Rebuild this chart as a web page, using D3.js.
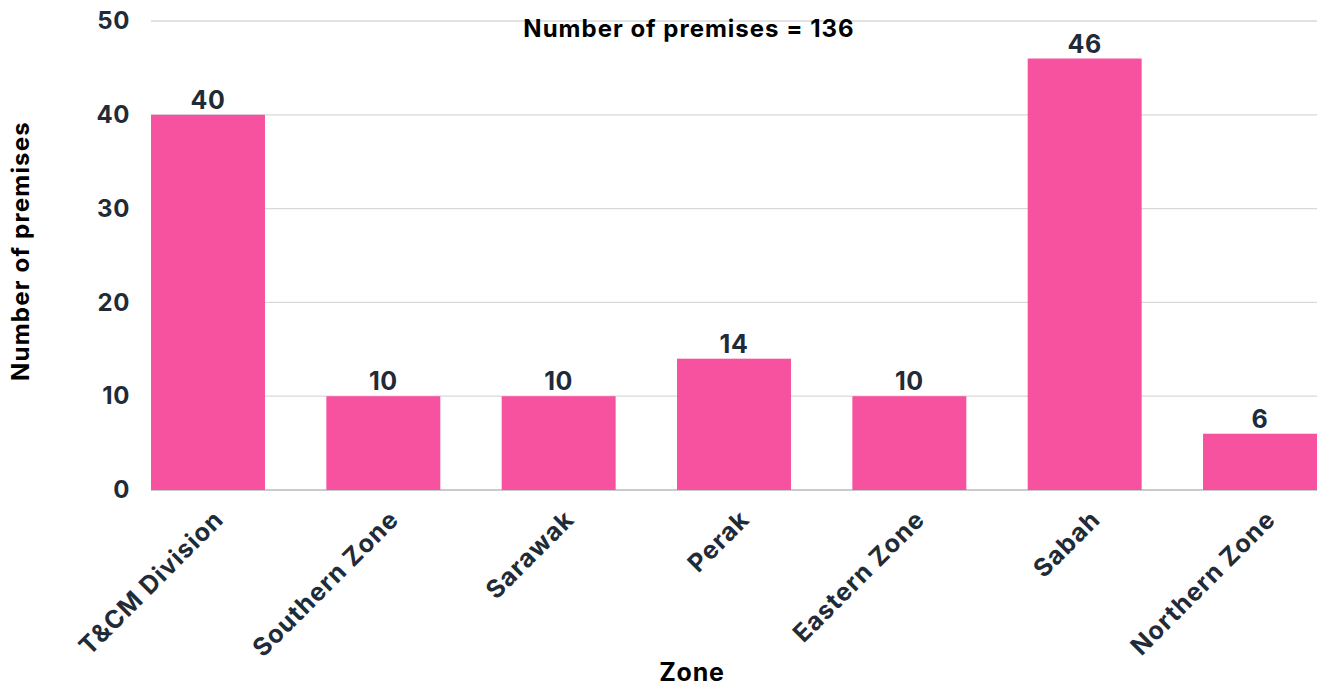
<!DOCTYPE html>
<html><head><meta charset="utf-8">
<script src="https://cdn.jsdelivr.net/npm/d3@7"></script>
<style>body{margin:0;background:#fff}svg{display:block}</style>
</head><body>
<svg id="c" width="1317" height="686"></svg>
<script>
const categories = ["T&CM Division","Southern Zone","Sarawak","Perak","Eastern Zone","Sabah","Northern Zone"];
const values = [40,10,10,14,10,46,6];
const yTicks = [0,10,20,30,40,50];
const title = "Number of premises = 136";
const xTitle = "Zone";
const yTitle = "Number of premises";

const svg = d3.select("#c");
const W = 1317, H = 686;
const m = {left:151, right:0, top:21, bottom:196};
const font = "Inter, 'Open Sans', sans-serif";
const textCol = "#1f2b37";

const x = d3.scaleBand().domain(categories).range([m.left, W - m.right]).paddingInner(0.35).paddingOuter(0);
const y = d3.scaleLinear().domain([0,50]).range([H - m.bottom, m.top]);

// gridlines
svg.append("g").selectAll("line").data(yTicks).join("line")
  .attr("x1", m.left).attr("x2", W)
  .attr("y1", d => y(d)).attr("y2", d => y(d))
  .attr("stroke", d => d === 0 ? "#b8b8b8" : "#d9d9d9").attr("stroke-width", 1.3);

// y axis labels
const yAxis = svg.append("g").attr("transform", `translate(${m.left},0)`)
  .call(d3.axisLeft(y).tickValues(yTicks).tickSize(0).tickPadding(21));
yAxis.select(".domain").remove();
yAxis.selectAll("text").attr("font-family", font).attr("font-size", 24).attr("font-weight", 700)
  .attr("letter-spacing", 0.6).attr("fill", textCol);

// bars
svg.append("g").selectAll("rect").data(values).join("rect")
  .attr("x", (d,i) => x(categories[i])).attr("width", x.bandwidth())
  .attr("y", d => y(d)).attr("height", d => y(0) - y(d))
  .attr("fill", "#f7529f");

// value labels
svg.append("g").selectAll("text").data(values).join("text")
  .attr("x", (d,i) => x(categories[i]) + x.bandwidth()/2)
  .attr("y", d => y(d) - 6)
  .attr("text-anchor", "middle")
  .attr("font-family", font).attr("font-size", 25).attr("font-weight", 700)
  .attr("letter-spacing", 0.6).attr("fill", textCol)
  .text(d => d);

// x axis
const xAxis = svg.append("g").attr("transform", `translate(0,${y(0)})`)
  .call(d3.axisBottom(x).tickSize(0).tickPadding(0));
xAxis.select(".domain").remove();
xAxis.selectAll("text")
  .attr("font-family", font).attr("font-size", 25).attr("font-weight", 700)
  .attr("letter-spacing", 1).attr("fill", textCol)
  .attr("text-anchor", "end").attr("dy", 0)
  .attr("transform", "translate(17,31) rotate(-45)");

// axis titles
svg.append("text").attr("x", 692).attr("y", 681).attr("text-anchor", "middle")
  .attr("font-family", font).attr("font-size", 25).attr("font-weight", 700)
  .attr("letter-spacing", 0.8).attr("fill", "#000").text(xTitle);
svg.append("text").attr("transform", "translate(29,251) rotate(-90)").attr("text-anchor", "middle")
  .attr("font-family", font).attr("font-size", 24).attr("font-weight", 700)
  .attr("letter-spacing", 1.2).attr("fill", "#000").text(yTitle);

// title
svg.append("text").attr("x", 689).attr("y", 37).attr("text-anchor", "middle")
  .attr("font-family", font).attr("font-size", 24).attr("font-weight", 700)
  .attr("letter-spacing", 1).attr("fill", "#000").text(title);
</script>
</body></html>
